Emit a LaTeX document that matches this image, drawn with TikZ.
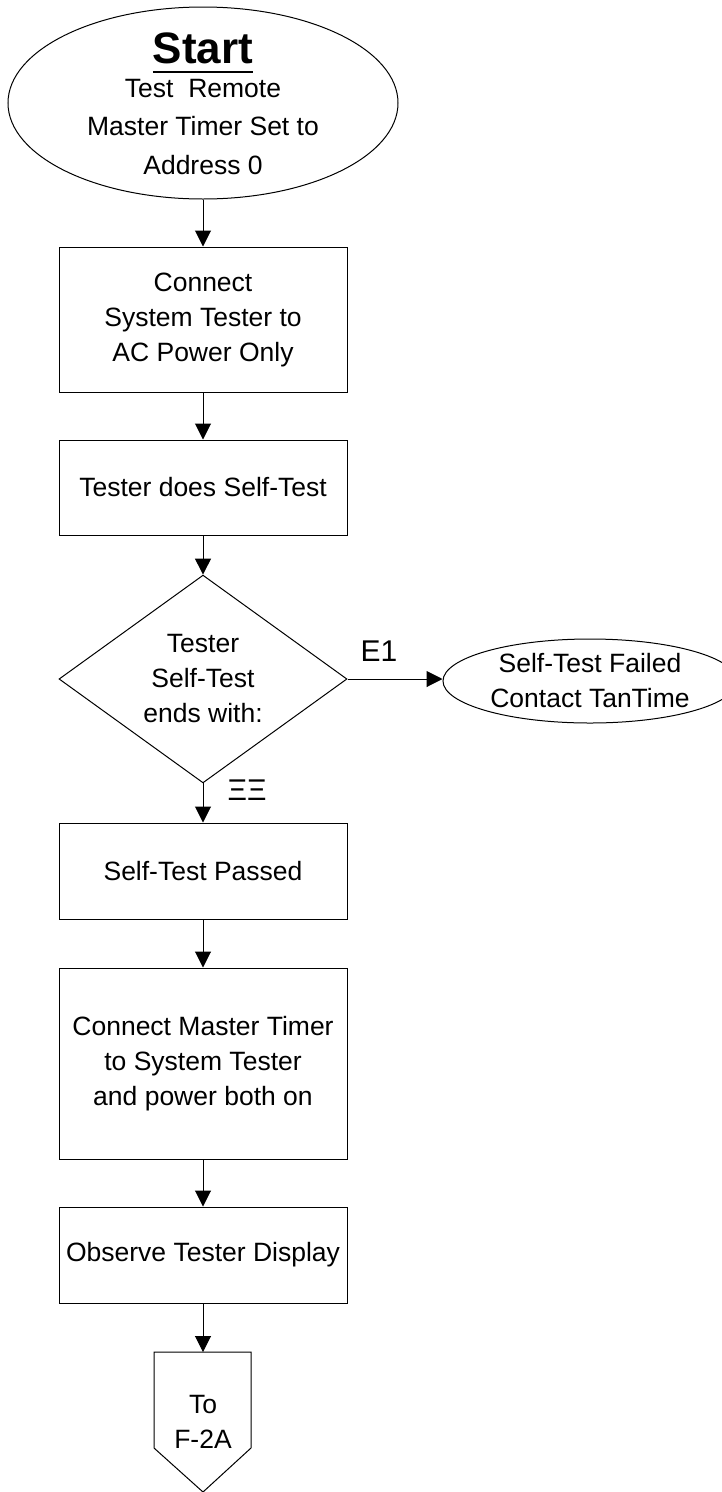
\documentclass[tikz,border=0pt]{standalone}
\usepackage{fontspec}
\setmainfont{Liberation Sans}
\usetikzlibrary{positioning,shapes.geometric,arrows.meta}

\newcommand{\headline}[1]{\setbox0\hbox{#1}\rlap{\raisebox{-9pt}{\rule{\wd0}{2.2pt}}}\box0}

\begin{document}
\begin{tikzpicture}[x=1pt,y=-1pt,
  box/.style={draw,line width=1pt,minimum width=288pt,align=center,inner sep=0pt,
    font=\fontsize{26.5}{35}\selectfont},
  flow/.style={-{Triangle[length=16pt,width=16pt]},line width=1pt},
  txt/.style={align=center,font=\fontsize{26.5}{35}\selectfont}]
\useasboundingbox (0,0) rectangle (721,1492);

% start
\node[draw,ellipse,line width=1pt,minimum width=390pt,minimum height=192pt] (start) at (203,103) {};
\node[align=center,font=\fontsize{26.5}{38.5}\selectfont] (starttext) at (203,104)
  {{\fontsize{44}{44}\selectfont\bfseries\headline{Start}}\\[-5pt]Test\ \ Remote\\Master Timer Set to\\Address 0};

% main column
\node[box,minimum height=145pt] (connect) at (203,319.5) {Connect\\System Tester to\\AC Power Only};
\node[box,minimum height=95pt] (selftest) at (203,487.5) {Tester does Self-Test};
\node[draw,diamond,line width=1pt,inner sep=0pt,minimum width=288pt,minimum height=192pt,
  align=center,font=\fontsize{26.5}{35}\selectfont] (check) at (203,679) {Tester\\Self-Test\\ends with:};
\node[box,minimum height=96pt] (passed) at (203,871) {Self-Test Passed};
\node[box,minimum height=191pt] (connectmaster) at (203,1063.5) {Connect Master Timer\\to System Tester\\and power both on};
\node[box,minimum height=96pt] (observe) at (203,1255) {Observe Tester Display};

% off page connector
\coordinate (tofatop) at (203,1352);
\draw[line width=1pt] (154,1448) -- (154,1352) -- (251,1352) -- (251,1448) -- (203,1492) -- cycle;
\node[txt] (tofa) at (203,1422) {To\\F-2A};

% failed branch
\node[draw,ellipse,line width=1pt,inner sep=0pt,minimum width=294pt,minimum height=84pt,
  align=center,font=\fontsize{26.5}{35}\selectfont] (failed) at (590,681) {Self-Test Failed\\Contact TanTime};
\node[font=\fontsize{30}{30}\selectfont] (eone) at (379,651) {E1};
\node[font=\fontsize{30}{30}\selectfont] (eelabel) at (247,790) {ΞΞ};

\draw[flow] (start) -- (connect);
\draw[flow] (connect) -- (selftest);
\draw[flow] (selftest) -- (check);
\draw[flow] (check) -- (passed);
\draw[flow] (check.east) -- (check.east -| failed.west);
\draw[flow] (passed) -- (connectmaster);
\draw[flow] (connectmaster) -- (observe);
\draw[flow] (observe) -- (tofatop);
\end{tikzpicture}
\end{document}
